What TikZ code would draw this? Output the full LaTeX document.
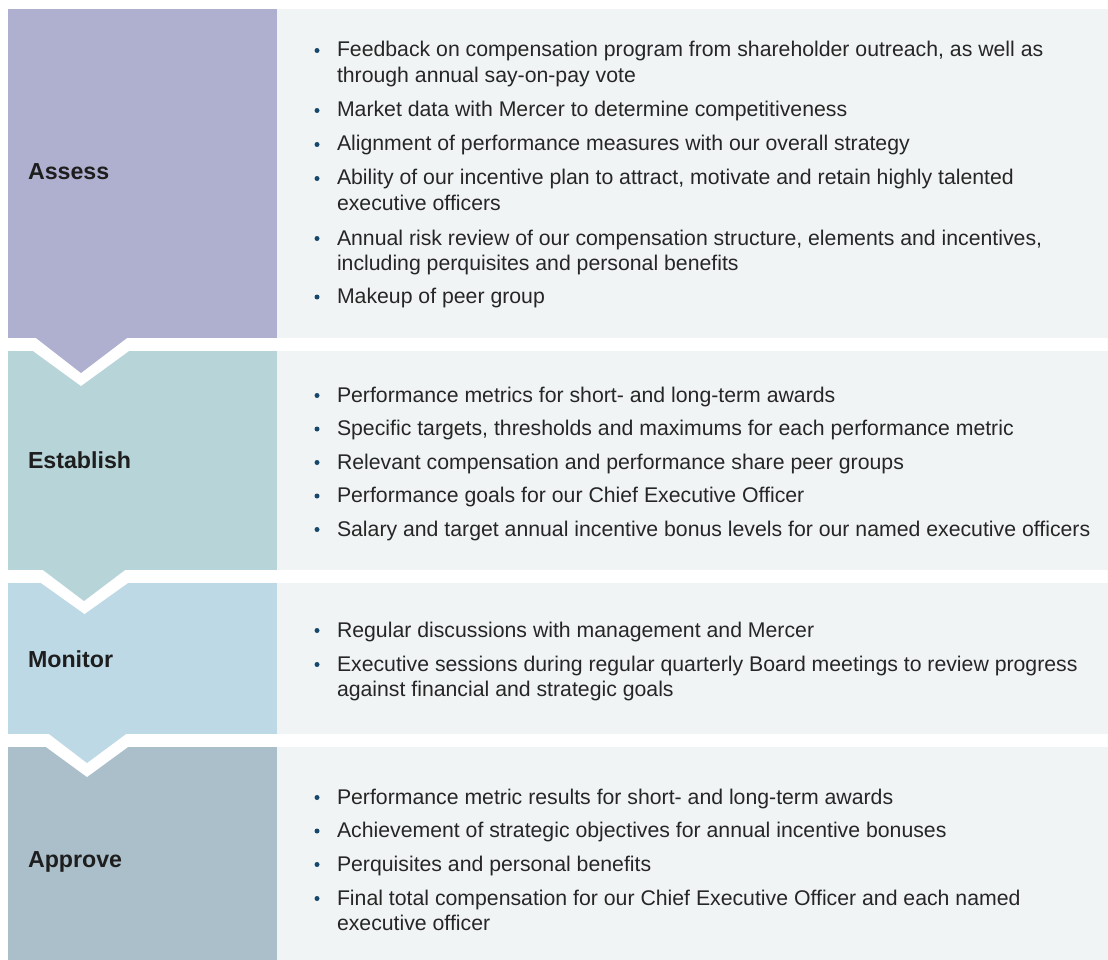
\documentclass[tikz,border=0pt]{standalone}
\usepackage{fontspec}
\setmainfont{Liberation Sans}
\definecolor{cAssess}{HTML}{AFB0CF}
\definecolor{cEstab}{HTML}{B7D4D9}
\definecolor{cMonitor}{HTML}{BDD9E5}
\definecolor{cApprove}{HTML}{ABBFCA}
\definecolor{cPanel}{HTML}{F1F4F5}
\definecolor{cText}{HTML}{262626}
\definecolor{cLabel}{HTML}{1E1E1E}
\definecolor{cBullet}{HTML}{17486B}
\tikzset{
  txt/.style={anchor=base west, inner sep=0pt, outer sep=0pt, text=cText, font=\fontsize{21.25}{26}\selectfont},
  lbl/.style={anchor=base west, inner sep=0pt, outer sep=0pt, text=cLabel, font=\fontsize{23.2}{26}\selectfont\bfseries},
  bul/.style={circle, fill=cBullet, inner sep=0pt, minimum size=5pt},
}
\newcommand\bitem[3]{% name, baseline, text
  \node[bul] (b#1) at (317,#2-6.5) {};
  \node[txt] (t#1) at (337,#2) {#3};
}
\newcommand\citem[3]{% continuation line
  \node[txt] (t#1) at (337,#2) {#3};
}
\begin{document}
\begin{tikzpicture}[x=1pt,y=-1pt]
\useasboundingbox (0,0) rectangle (1108,960);
\fill[white] (0,0) rectangle (1108,960);
% panels
\fill[cPanel] (277,9) rectangle (1108,338);
\fill[cPanel] (277,351) rectangle (1108,570);
\fill[cPanel] (277,583) rectangle (1108,734);
\fill[cPanel] (277,747) rectangle (1108,960);
% coloured boxes
\fill[cAssess] (8,9) rectangle (277,338);
\fill[cEstab] (8,351) rectangle (277,570);
\fill[cMonitor] (8,583) rectangle (277,734);
\fill[cApprove] (8,747) rectangle (277,960);
% white notches
\fill[white] (33,351) -- (129,351) -- (81,386) -- cycle;
\fill[white] (41,583) -- (128,583) -- (84.5,614) -- cycle;
\fill[white] (46,747) -- (128,747) -- (87,777) -- cycle;
% chevrons
\fill[cAssess] (36,338) -- (127,338) -- (81,373) -- cycle;
\fill[cEstab] (43,570) -- (125,570) -- (84,601) -- cycle;
\fill[cMonitor] (49,734) -- (126,734) -- (87,763) -- cycle;
% labels
\node[lbl] (lAssess) at (28,180) {Assess};
\node[lbl] (lEstab) at (28,468) {Establish};
\node[lbl] (lMonitor) at (28,667) {Monitor};
\node[lbl] (lApprove) at (28,867) {Approve};
% Assess items
\bitem{a1}{57}{Feedback on compensation program from shareholder outreach, as well as}
\citem{a1b}{83}{through annual say-on-pay vote}
\bitem{a2}{117}{Market data with Mercer to determine competitiveness}
\bitem{a3}{151}{Alignment of performance measures with our overall strategy}
\bitem{a4}{185}{Ability of our incentive plan to attract, motivate and retain highly talented}
\citem{a4b}{210.5}{executive officers}
\bitem{a5}{245}{Annual risk review of our compensation structure, elements and incentives,}
\citem{a5b}{270.5}{including perquisites and personal benefits}
\bitem{a6}{303.5}{Makeup of peer group}
% Establish items
\bitem{e1}{402}{Performance metrics for short- and long-term awards}
\bitem{e2}{435.5}{Specific targets, thresholds and maximums for each performance metric}
\bitem{e3}{469}{Relevant compensation and performance share peer groups}
\bitem{e4}{502.5}{Performance goals for our Chief Executive Officer}
\bitem{e5}{536}{Salary and target annual incentive bonus levels for our named executive officers}
% Monitor items
\bitem{m1}{637}{Regular discussions with management and Mercer}
\bitem{m2}{671}{Executive sessions during regular quarterly Board meetings to review progress}
\citem{m2b}{696.5}{against financial and strategic goals}
% Approve items
\bitem{p1}{804}{Performance metric results for short- and long-term awards}
\bitem{p2}{837.5}{Achievement of strategic objectives for annual incentive bonuses}
\bitem{p3}{871}{Perquisites and personal benefits}
\bitem{p4}{905}{Final total compensation for our Chief Executive Officer and each named}
\citem{p4b}{930.5}{executive officer}
\end{tikzpicture}
\end{document}
